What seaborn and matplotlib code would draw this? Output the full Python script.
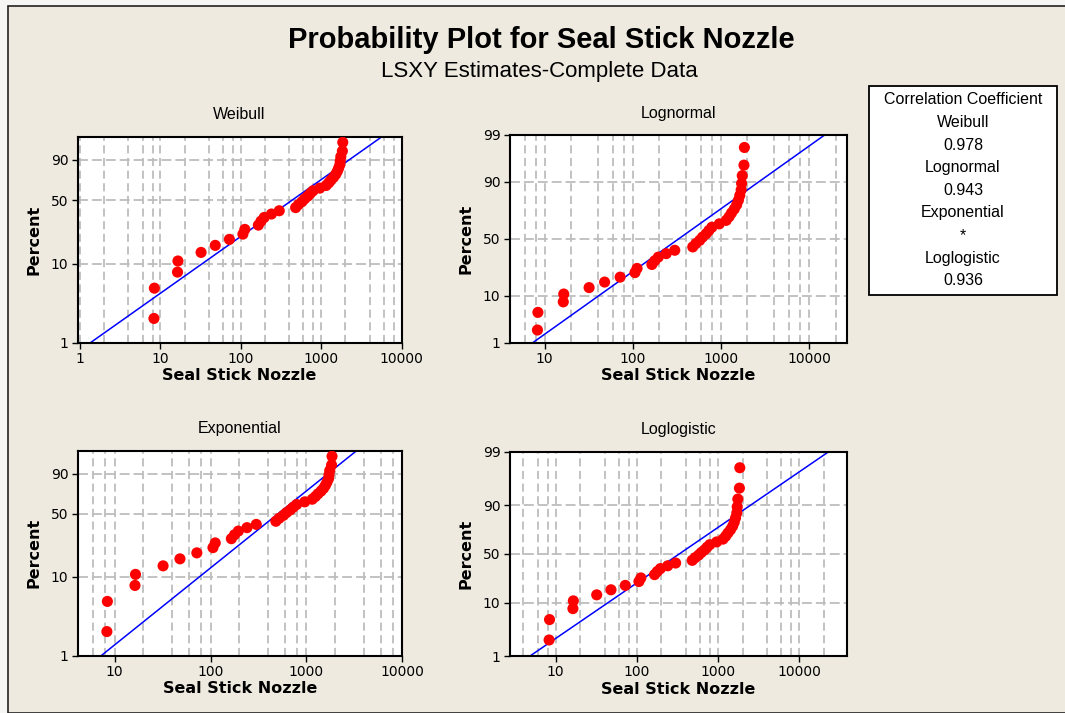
import numpy as np
import matplotlib
matplotlib.use("Agg")
import matplotlib.pyplot as plt
import seaborn as sns
from statistics import NormalDist
from matplotlib.patches import Rectangle
from matplotlib.ticker import FixedLocator, NullFormatter, NullLocator

# failure times (34 units, complete data)
seal_stick_nozzle = [8.3, 8.4, 16.3, 16.5, 32, 48, 72, 106, 112, 165, 178, 195,
                     240, 300, 480, 520, 575, 620, 680, 730, 790, 960, 1150,
                     1240, 1320, 1420, 1510, 1580, 1640, 1700, 1720, 1750,
                     1830, 1850]

distributions = ["Weibull", "Lognormal", "Exponential", "Loglogistic"]
corr_labels = ["0.978", "0.943", "*", "0.936"]
x_limits = {"Weibull": (0.93, 10000), "Lognormal": (4.0, 27000),
            "Exponential": (4.1, 10000), "Loglogistic": (2.7, 39000)}
x_ticks = {"Weibull": [1, 10, 100, 1000, 10000],
           "Lognormal": [10, 100, 1000, 10000],
           "Exponential": [10, 100, 1000, 10000],
           "Loglogistic": [10, 100, 1000, 10000]}
y_ticks = {"Weibull": [1, 10, 50, 90], "Lognormal": [1, 10, 50, 90, 99],
           "Exponential": [1, 10, 50, 90], "Loglogistic": [1, 10, 50, 90, 99]}

BEIGE = "#EEEAE0"
GRID = "#BDBDBD"

nd = NormalDist()


def _q(p):
    return np.clip(np.asarray(p, dtype=float), 1e-7, 100 - 1e-7) / 100.0


def weib_fwd(p):
    return np.log(-np.log(1 - _q(p)))


def weib_inv(w):
    return 100 * (1 - np.exp(-np.exp(np.asarray(w, dtype=float))))


_ppf = np.vectorize(nd.inv_cdf, otypes=[float])
_cdf = np.vectorize(nd.cdf, otypes=[float])


def norm_fwd(p):
    return _ppf(_q(p))


def norm_inv(z):
    return 100 * _cdf(np.asarray(z, dtype=float))


def logit_fwd(p):
    q = _q(p)
    return np.log(q / (1 - q))


def logit_inv(y):
    return 100 / (1 + np.exp(-np.asarray(y, dtype=float)))


scales = {"Weibull": (weib_fwd, weib_inv), "Lognormal": (norm_fwd, norm_inv),
          "Exponential": (weib_fwd, weib_inv), "Loglogistic": (logit_fwd, logit_inv)}

# median ranks
times = np.sort(np.array(seal_stick_nozzle, dtype=float))
n = len(times)
ranks = np.arange(1, n + 1)
pct = 100 * (ranks - 0.3) / (n + 0.4)
p_line = np.linspace(0.2, 99.8, 400)

sns.set_style("ticks")
plt.rcParams["font.family"] = ["DejaVu Sans"]
plt.rcParams["text.color"] = "black"
plt.rcParams["axes.labelcolor"] = "black"
plt.rcParams["xtick.color"] = "black"
plt.rcParams["ytick.color"] = "black"

fig = plt.figure(figsize=(10.65, 7.13), dpi=100)
fig.patch.set_facecolor("#F6F6F4")
fig.patches.append(Rectangle((8 / 1065, 0), 1, 1 - 6 / 713, transform=fig.transFigure,
                             facecolor=BEIGE, edgecolor="#222222", lw=1.2, zorder=-5))

W, H = 1065, 713
boxes = {"Weibull": (77.5, 136.7, 401.7, 342.5),
         "Lognormal": (509.5, 135.0, 847.0, 342.5),
         "Exponential": (77.5, 450.7, 402.3, 655.5),
         "Loglogistic": (509.5, 451.7, 847.3, 656.0)}

for name in distributions:
    x0, y0, x1, y1 = boxes[name]
    ax = fig.add_axes([x0 / W, 1 - y1 / H, (x1 - x0) / W, (y1 - y0) / H])
    ax.set_facecolor("white")
    fwd, inv = scales[name]

    # LSXY fit
    if name == "Exponential":
        u = -np.log(1 - pct / 100)
        theta = np.sum(times * u) / np.sum(u * u)
        x_line = theta * (-np.log(1 - p_line / 100))
    else:
        yv = fwd(pct)
        b, a = np.polyfit(yv, np.log(times), 1)
        x_line = np.exp(a + b * fwd(p_line))

    sns.lineplot(x=x_line, y=p_line, ax=ax, color="#0000FF", lw=1.1, sort=False,
                 estimator=None, zorder=2)
    sns.scatterplot(x=times, y=pct, ax=ax, color="#FF0000", s=64, edgecolor="none",
                    zorder=3, legend=False)

    ax.set_xscale("log")
    ax.set_yscale("function", functions=(fwd, inv))
    ax.set_xlim(*x_limits[name])
    ax.set_ylim(1, 99)

    ax.set_yticks(y_ticks[name])
    ax.set_yticklabels([str(t) for t in y_ticks[name]])
    ax.yaxis.set_minor_locator(NullLocator())
    ax.set_xticks(x_ticks[name])
    ax.set_xticklabels([str(t) for t in x_ticks[name]])
    lo, hi = x_limits[name]
    minors = [m * 10.0 ** k for k in range(-1, 6) for m in (2, 4, 6, 8)
              if lo < m * 10.0 ** k < hi]
    ax.xaxis.set_minor_locator(FixedLocator(minors))
    ax.xaxis.set_minor_formatter(NullFormatter())
    ax.tick_params(axis="both", which="major", labelsize=10, length=4.5, width=1,
                   pad=2, color="black", labelcolor="black")
    ax.tick_params(axis="x", which="minor", length=0)

    ax.grid(True, axis="x", which="both", color=GRID, ls=(0, (4.5, 2.5)), lw=1.3)
    ax.grid(True, axis="y", which="major", color=GRID, ls=(0, (5.5, 2.2)), lw=1.3)
    ax.set_axisbelow(True)
    for sp in ax.spines.values():
        sp.set_visible(True)
        sp.set_color("black")
        sp.set_linewidth(1.5)

    ax.set_title(name, fontsize=11.5, family="Liberation Sans", pad=12.5, color="black")
    ax.set_xlabel("Seal Stick Nozzle", fontsize=11.5, fontweight="bold", labelpad=2)
    ax.set_ylabel("Percent", fontsize=11.5, fontweight="bold", labelpad=7)

fig.text(541 / W, 1 - 40 / H, "Probability Plot for Seal Stick Nozzle", ha="center",
         va="center", fontsize=21, fontweight="bold", family="Liberation Sans",
         color="black")
fig.text(539 / W, 1 - 71 / H, "LSXY Estimates-Complete Data", ha="center",
         va="center", fontsize=16, family="Liberation Sans", color="black")

# correlation coefficient box
fig.patches.append(Rectangle((869 / W, 1 - 295 / H), (1057 - 869) / W, (295 - 86) / H,
                             transform=fig.transFigure, facecolor="white",
                             edgecolor="black", lw=1.3, zorder=1))
lines = ["Correlation Coefficient"]
for name, c in zip(distributions, corr_labels):
    lines += [name, c]
for i, txt in enumerate(lines):
    fig.text(963 / W, 1 - (100 + i * 22.6) / H, txt, ha="center", va="center",
             fontsize=11.5, family="Liberation Sans", color="black", zorder=2)

fig.savefig("out.png", dpi=100, facecolor=fig.get_facecolor())
